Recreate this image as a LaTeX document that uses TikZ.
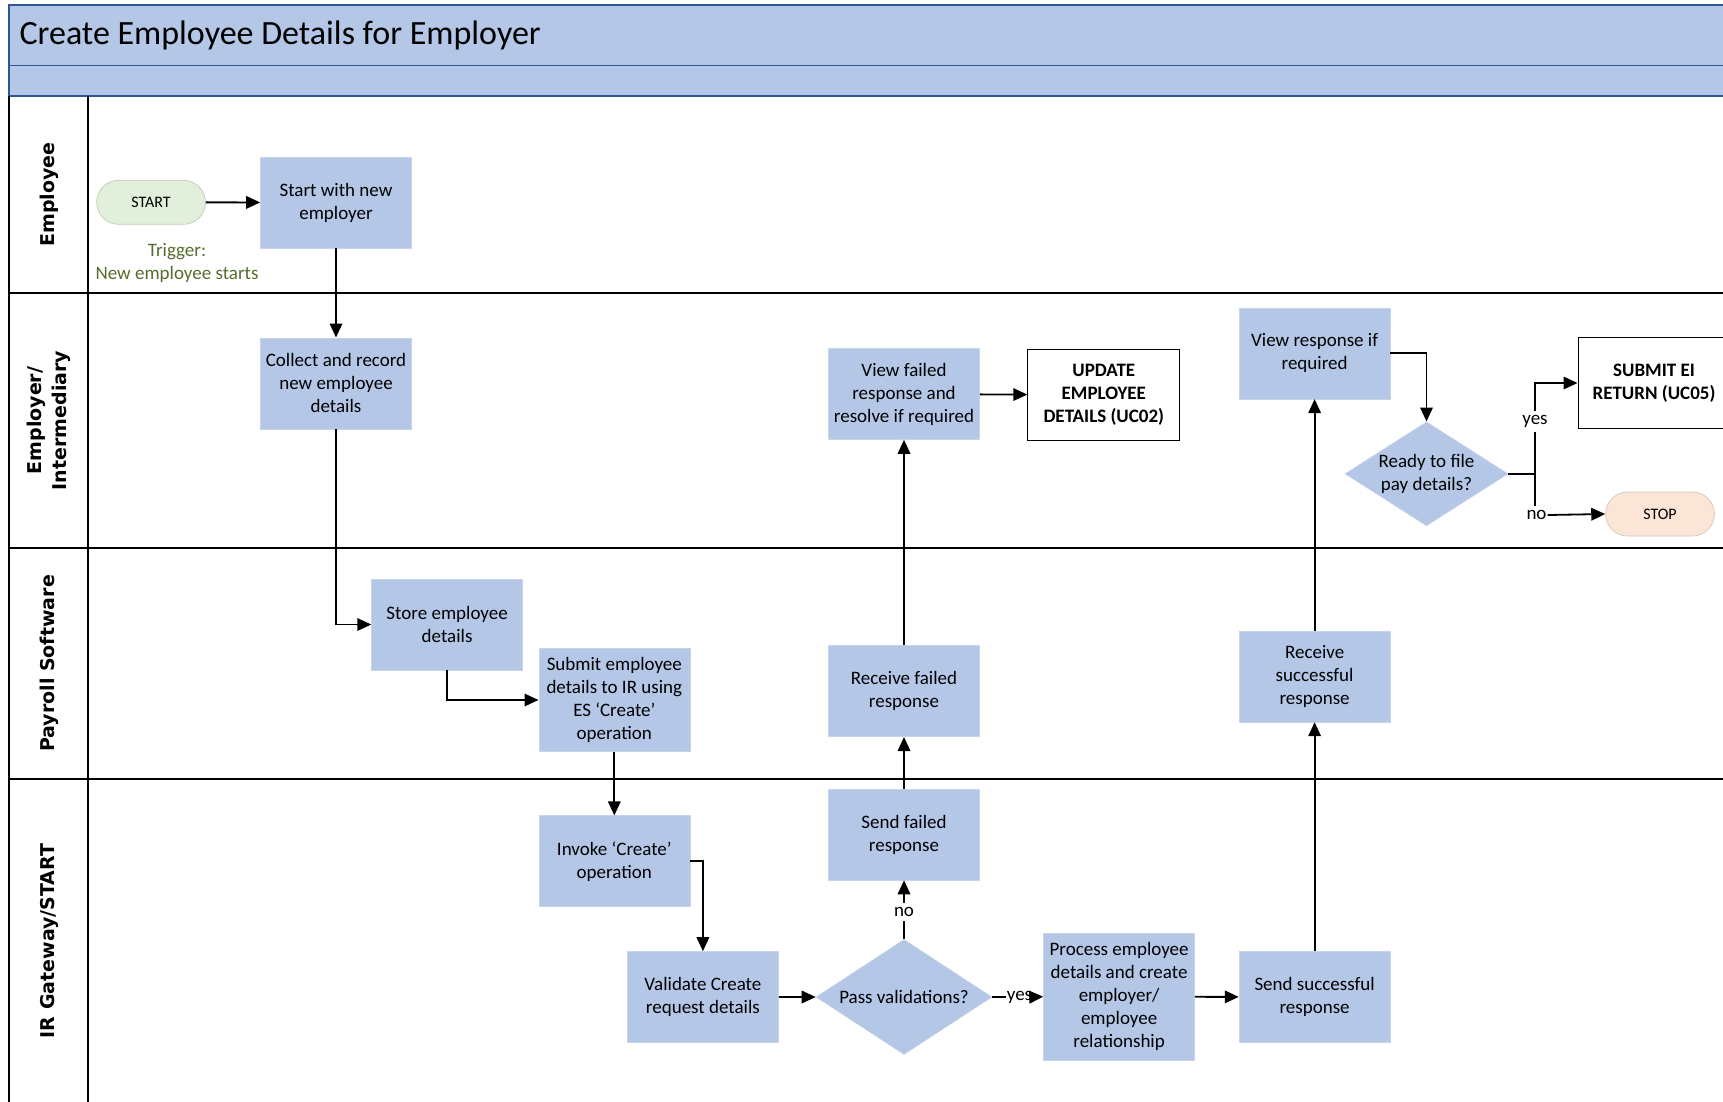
\documentclass[tikz,border=0pt]{standalone}
\usepackage{fontspec}
\setmainfont{Carlito}
\newfontfamily\lanefont{DejaVu Sans}
\usetikzlibrary{arrows.meta,shapes.geometric}

\definecolor{boxblue}{RGB}{180,199,231}
\definecolor{boxedge}{RGB}{200,212,232}
\definecolor{bandline}{RGB}{47,85,151}
\definecolor{startgreen}{RGB}{226,239,218}
\definecolor{startedge}{RGB}{190,205,180}
\definecolor{stoppeach}{RGB}{251,229,214}
\definecolor{stopedge}{RGB}{215,200,190}
\definecolor{triggergreen}{RGB}{84,110,45}

\newcommand\flowtext{\fontsize{19}{23}\selectfont}
\newcommand\termtext{\fontsize{16}{19}\selectfont}
\newcommand\lanetext{\lanefont\bfseries\fontsize{19}{25}\selectfont}

\tikzset{
  x=1pt, y=-1pt,
  procbox/.style={rectangle, fill=boxblue, draw=boxedge, line width=0.6pt,
    minimum width=151pt, minimum height=91pt, align=center, inner sep=2pt, font=\flowtext},
  refbox/.style={rectangle, fill=white, draw=black, line width=0.9pt,
    minimum width=152pt, minimum height=91pt, align=center, inner sep=2pt, font=\flowtext\bfseries},
  decision/.style={diamond, fill=boxblue, draw=boxedge, line width=0.6pt,
    inner sep=0pt, align=center, font=\flowtext},
  terminal/.style={rectangle, rounded corners=22pt, line width=0.7pt,
    minimum width=108.8pt, minimum height=44pt, font=\termtext},
  branchlabel/.style={font=\flowtext, inner xsep=1pt, inner ysep=4pt},
  lanelabel/.style={rotate=90, align=center, font=\lanetext},
  laneline/.style={line width=1.8pt, black},
  band/.style={fill=boxblue, draw=bandline, line width=1.8pt},
  conn/.style={line width=1.8pt},
  arr/.style={line width=1.8pt, -{Triangle[length=14pt,width=12.5pt]}},
}

\begin{document}
\begin{tikzpicture}
\useasboundingbox (0,0) rectangle (1723,1101);
\clip (0,0) rectangle (1723,1101);
\fill[white] (0,0) rectangle (1723,1101);

% header bands
\draw[band] (8.9,5) rectangle (1740,65.5);
\draw[band] (8.9,65.5) rectangle (1740,96);
\node[anchor=west, font=\fontsize{34}{40}\selectfont] (title) at (16,35) {Create Employee Details for Employer};

% swimlane grid
\draw[laneline] (8.9,96) -- (8.9,1110);
\draw[laneline] (88,96) -- (88,1110);
\draw[laneline] (8.9,292.7) -- (1740,292.7);
\draw[laneline] (8.9,548.3) -- (1740,548.3);
\draw[laneline] (8.9,779) -- (1740,779);

% lane titles
\node[lanelabel] (laneA) at (49,194.5) {Employee};
\node[lanelabel] (laneB) at (49,420.5) {Employer/\\Intermediary};
\node[lanelabel] (laneC) at (49,663.5) {Payroll Software};
\node[lanelabel] (laneD) at (49,941) {IR Gateway/START};

% terminals
\node[terminal, fill=startgreen, draw=startedge] (start) at (151.1,202.3) {START};
\node[terminal, fill=stoppeach, draw=stopedge] (stop) at (1660,514) {STOP};
\node[align=center, text=triggergreen, font=\fontsize{19}{22.3}\selectfont] (trigger) at (177,263) {Trigger:\\New employee starts};

% process steps
\node[procbox] (startnew) at (336,202.5) {Start with new\\employer};
\node[procbox] (collect) at (336,383.3) {Collect and record\\new employee\\details};
\node[procbox] (store) at (447.1,624.5) {Store employee\\details};
\node[procbox, minimum height=103.4pt] (submit) at (614.3,700) {Submit employee\\details to IR using\\ES ‘Create’\\operation};
\node[procbox] (invoke) at (614.3,861.2) {Invoke ‘Create’\\operation};
\node[procbox] (validate) at (702.9,997) {Validate Create\\request details};
\node[decision, aspect=1.6, minimum width=176pt, minimum height=115pt] (pass) at (904,997) {Pass validations?};
\node[procbox] (sendfail) at (904,834.5) {Send failed\\response};
\node[procbox] (recvfail) at (904,691.2) {Receive failed\\response};
\node[procbox] (viewfail) at (904,394) {View failed\\response and\\resolve if required};
\node[refbox] (update) at (1103.8,395) {UPDATE\\EMPLOYEE\\DETAILS (UC02)};
\node[procbox, minimum height=126.7pt] (process) at (1119.1,996.7) {Process employee\\details and create\\employer/\\employee\\relationship};
\node[procbox] (sendok) at (1314.6,997) {Send successful\\response};
\node[procbox] (recvok) at (1314.6,676.4) {Receive\\successful\\response};
\node[procbox] (viewok) at (1314.6,353.3) {View response if\\required};
\node[decision, aspect=1.6, minimum width=163pt, minimum height=104pt] (ready) at (1426.5,473.8) {Ready to file\\pay details?};
\node[refbox] (submitei) at (1654,383) {SUBMIT EI\\RETURN (UC05)};

% branch labels
\node[branchlabel] (passno) at (904,911.7) {no};
\node[branchlabel] (passyes) at (1019.5,997) {yes};
\node[branchlabel] (readyyes) at (1535,421.7) {yes};
\node[branchlabel] (readyno) at (1536.5,515) {no};
\coordinate (fork) at (1535,473.8);

% connectors
\draw[arr] (start) -- (startnew);
\draw[arr] (startnew) -- (collect);
\draw[arr] (collect.south) |- (store.west);
\draw[arr] (store.south) |- (submit.west);
\draw[arr] (submit) -- (invoke);
\draw[arr] (invoke.east) -| (validate.north);
\draw[arr] (validate) -- (pass);
\draw[conn] (pass.north) -- (passno.south);
\draw[arr] (passno.north) -- (sendfail.south);
\draw[conn] (pass.east) -- (passyes.west);
\draw[arr] (passyes.east) -- (process.west);
\draw[arr] (sendfail) -- (recvfail);
\draw[arr] (recvfail) -- (viewfail);
\draw[arr] (viewfail) -- (update);
\draw[arr] (process) -- (sendok);
\draw[arr] (sendok) -- (recvok);
\draw[arr] (recvok) -- (viewok);
\draw[arr] (viewok.east) -| (ready.north);
\draw[conn] (ready.east) -- (fork);
\draw[conn] (fork) -- (readyyes.south);
\draw[arr] (readyyes.north) |- (submitei.west);
\draw[conn] (fork) -- (readyno.north -| fork);
\draw[arr] (readyno.east) -- (stop.west);
\end{tikzpicture}
\end{document}
